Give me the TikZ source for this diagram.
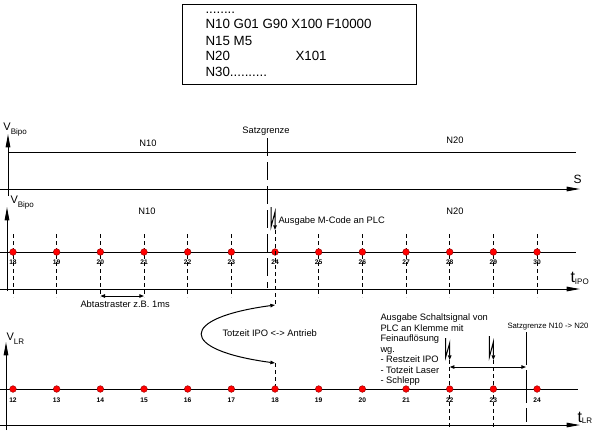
\documentclass[tikz,border=0pt]{standalone}
\usepackage{fontspec}
\setmainfont{Liberation Sans}
\usetikzlibrary{arrows.meta}

\newcommand{\axlbl}[4]{{\fontsize{#1}{#1}\selectfont #2}\raisebox{-#4}{\fontsize{6}{7}\selectfont #3}}

\tikzset{
  code/.style={font=\fontsize{10}{12}\selectfont, inner sep=0pt},
  txt/.style={font=\fontsize{7}{8}\selectfont, inner sep=0pt},
  num/.style={font=\fontsize{5}{5}\selectfont\bfseries, inner sep=0pt},
  dot/.style={circle, fill=red, draw=red!55!black, line width=0.3pt, inner sep=0pt, minimum size=5pt},
  raster/.style={dash pattern=on 3pt off 2.25pt},
  longdash/.style={dash pattern=on 13.5pt off 4.5pt},
  longlr/.style={dash pattern=on 24.75pt off 3.75pt},
  axisarrow/.style={-{Stealth[length=10pt, width=3.4pt, inset=0pt]}},
  bolt/.style={-{Stealth[length=3.5pt, width=2.6pt, inset=0pt]}},
  span/.style={{Stealth[length=3.5pt, width=2.6pt, inset=0pt]}-{Stealth[length=3.5pt, width=2.6pt, inset=0pt]}},
}

\begin{document}
\begin{tikzpicture}[x=0.75pt, y=-0.75pt, line width=0.75pt]
\useasboundingbox (0,0) rectangle (602,430);

% NC program
\draw (182,4) rectangle (416,84);
\draw (205,13) node[code, anchor=base west] (p0) {........};
\draw (205,28) node[code, anchor=base west] (p1) {N10 G01 G90 X100 F10000};
\draw (205,45) node[code, anchor=base west] (p2) {N15 M5};
\draw (205,60) node[code, anchor=base west] (p3) {N20};
\draw (295,60) node[code, anchor=base west] (p3x) {X101};
\draw (205,76) node[code, anchor=base west] (p4) {N30..........};

% path axis
\draw[axisarrow] (8,196) -- (8,134);
\draw[axisarrow] (0,189) -- (580,189);
\draw (8,152) -- (576,152);
\draw (3,130) node[anchor=base west, inner sep=0pt] (vs) {\axlbl{8.25}{V}{Bipo}{3pt}};
\draw (573,183) node[anchor=base west, inner sep=0pt] (sax) {\fontsize{9}{9}\selectfont S};
\draw (148,143) node[txt] (n10a) {N10};
\draw (455,140) node[txt] (n20a) {N20};
\draw (266,131) node[txt] (sg) {Satzgrenze};
\coordinate (sgtop) at (267,138);
\coordinate (sgbot) at (267,288);
\draw[longdash] (sgtop) -- (sgbot);

% IPO clock
\draw[axisarrow] (7,291) -- (7,207);
\draw[axisarrow] (0,289) -- (580,289);
\draw (10,203) node[anchor=base west, inner sep=0pt] (vb) {\axlbl{8.25}{V}{Bipo}{3pt}};
\draw (570,282) node[anchor=base west, inner sep=0pt] (tipo) {\axlbl{12}{t}{IPO}{1.5pt}};
\draw (147,211) node[txt] (n10b) {N10};
\draw (455,211) node[txt] (n20b) {N20};
\foreach \n [count=\i from 0] in {18,...,30}
  \coordinate (i\n) at (13+43.67*\i,252);
\foreach \n in {18,19,20,21,22,23,25,26,27,28,29,30}
  \draw[raster] (i\n |- 0,234) -- (i\n |- 0,297);
\draw (0,252) -- (576,252);
\foreach \n in {18,...,30}
  \draw (i\n) node[dot] (di\n) {} (i\n |- 0,262) node[num] (ni\n) {\n};

\draw[bolt] (i24) ++(-4,-45) -- ++(0,20) -- ++(4,-15) -- ++(0,18);
\draw (278,223) node[txt, anchor=base west] (mcode) {Ausgabe M-Code an PLC};
\draw[span] (i20 |- 0,296) -- (i21 |- 0,296);
\draw (80,307) node[txt, anchor=base west] (abt) {Abtastraster z.B. 1ms};

% LR clock
\draw[axisarrow] (6,430) -- (6,342);
\draw[axisarrow] (0,425) -- (580,425);
\draw (6,340) node[anchor=base west, inner sep=0pt] (vlr) {\axlbl{8.25}{V}{LR}{3pt}};
\draw (577,422) node[anchor=base west, inner sep=0pt] (tlr) {\axlbl{12}{t}{LR}{1pt}};
\foreach \n [count=\i from 0] in {12,...,24}
  \coordinate (l\n) at (13+43.67*\i,389);

% dead time IPO -> drive
\coordinate (tz1) at (i24 |- 0,305);
\coordinate (tz2) at (l18 |- 0,363);
\draw[raster] (i24 |- 0,230) -- (tz1);
\draw[span] (tz1) .. controls (178,318) and (178,350) .. (tz2);
\draw[raster] (tz2) -- (l18);
\draw (222,336) node[txt, anchor=base west] (tzt) {Totzeit IPO <-> Antrieb};

\draw[bolt] (l22) ++(-4,-51) -- ++(0,19) -- ++(4,-14) -- ++(0,17);
\draw[raster] (l22 |- 0,360) -- (l22 |- 0,427);
\draw[bolt] (l23) ++(-4,-53) -- ++(0,21) -- ++(4,-15) -- ++(0,18);
\draw[raster] (l23 |- 0,360) -- (l23 |- 0,428);

\coordinate (sgn) at (526,332);
\coordinate (sgs) at (526,422);
\draw[longlr] (sgn) -- (sgs);
\draw[span] (l22 |- 0,367) -- (sgn |- 0,367);
\draw (507,328) node[anchor=base west, inner sep=0pt, font=\fontsize{5.8}{7}\selectfont] (sgl) {Satzgrenze N10 -> N20};

\draw (0,389) -- (578,389);
\foreach \n in {12,...,24}
  \draw (l\n) node[dot] (dl\n) {} (l\n |- 0,400) node[num] (nl\n) {\n};

\draw (380,320) node[txt, anchor=base west] (a1) {Ausgabe Schaltsignal von};
\draw (380,331) node[txt, anchor=base west] (a2) {PLC an Klemme mit};
\draw (380,341) node[txt, anchor=base west] (a3) {Feinauflösung};
\draw (380,352) node[txt, anchor=base west] (a4) {wg.};
\draw (380,362) node[txt, anchor=base west] (a5) {- Restzeit IPO};
\draw (380,373) node[txt, anchor=base west] (a6) {- Totzeit Laser};
\draw (380,383) node[txt, anchor=base west] (a7) {- Schlepp};

\end{tikzpicture}
\end{document}
